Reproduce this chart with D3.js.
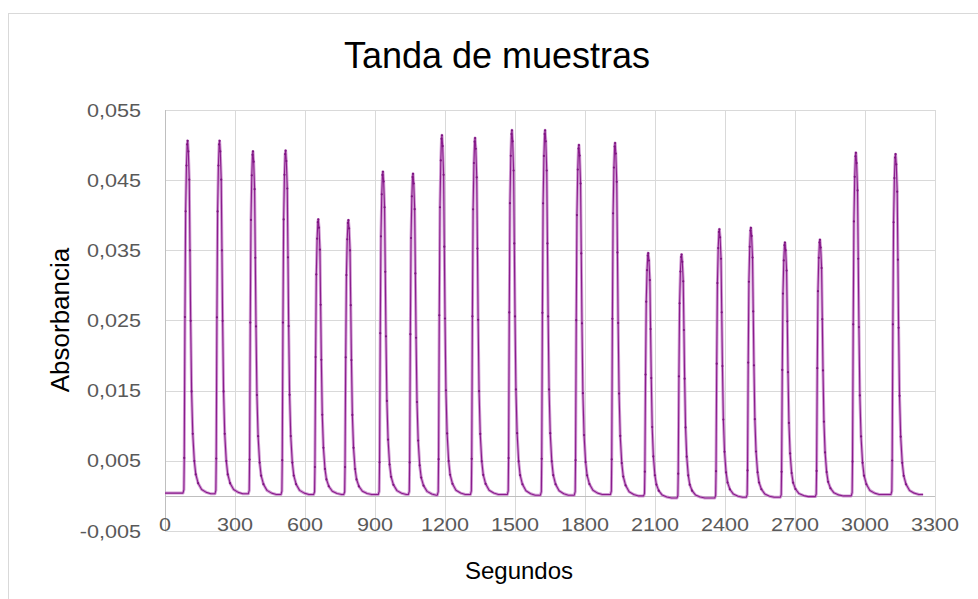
<!DOCTYPE html>
<html>
<head>
<meta charset="utf-8">
<script src="https://cdn.jsdelivr.net/npm/d3@7"></script>
<style>
  html, body { margin: 0; padding: 0; background: #fff; }
  svg { display: block; font-family: "Liberation Sans", Arial, sans-serif; }
</style>
</head>
<body>
<svg id="chart" width="978" height="599"></svg>
<script>
// Absorbance run: one peak per injected sample
const peakTimes   = [97, 234, 377, 517, 657, 786, 934, 1063, 1187, 1329, 1487,
                     1629, 1774, 1929, 2071, 2214, 2376, 2511, 2657, 2807, 2961, 3131];
const peakHeights = [0.0506, 0.0506, 0.0491, 0.0492, 0.0394, 0.0393, 0.0462, 0.0459,
                     0.0514, 0.0510, 0.0521, 0.0521, 0.0500, 0.0503, 0.0346, 0.0344,
                     0.0380, 0.0382, 0.0361, 0.0365, 0.0489, 0.0487];
// baseline level before each peak (last entry: after the final peak)
const baselineLevels = [0.0004, 0.0003, 0.0003, 0.0002, 0.0002, 0.0002, 0.0002, 0.0002,
                        0.0001, 0.0002, 0.0002, 0.0001, 0.0001, 0.0002, 0.0000, -0.0003,
                        -0.0003, -0.0002, -0.0002, -0.0001, 0.0000, 0.0002, 0.0002];
// measured peak profile: seconds from the maximum, fraction of peak height
const profileOffsets   = [-20, -16, -14.5, -11.5, -8.5, -5, -2, 0, 3, 7, 10, 13, 17, 22,
                          28.6, 35, 45, 60, 80, 100];
const profileFractions = [0, 0.01, 0.1, 0.5, 0.8, 0.93, 0.99, 1, 0.97, 0.89, 0.69, 0.49,
                          0.29, 0.17, 0.093, 0.055, 0.03, 0.012, 0.004, 0];
const recordStart = 0;
const recordEnd = 3249;

const xTickValues = [0, 300, 600, 900, 1200, 1500, 1800, 2100, 2400, 2700, 3000, 3300];
const yTickValues = [-0.005, 0.005, 0.015, 0.025, 0.035, 0.045, 0.055];

const titleText = "Tanda de muestras";
const xTitle = "Segundos";
const yTitle = "Absorbancia";

// ---- build the trace ----
const trace = [[recordStart, baselineLevels[0]]];
const markers = [];
peakTimes.forEach((t0, i) => {
  const h = peakHeights[i];
  profileOffsets.forEach((off, k) => {
    const base = off <= 0 ? baselineLevels[i] : baselineLevels[i + 1];
    const v = base + profileFractions[k] * (h - base);
    trace.push([t0 + off, v]);
    if (profileFractions[k] > 0.02) markers.push([t0 + off, v]);
  });
});
trace.push([recordEnd, baselineLevels[baselineLevels.length - 1]]);

// ---- layout ----
const svg = d3.select("#chart");
const plot = { left: 165, right: 935, top: 110, bottom: 531 };

const x = d3.scaleLinear().domain([0, 3300]).range([plot.left, plot.right]);
const y = d3.scaleLinear().domain([-0.005, 0.055]).range([plot.bottom, plot.top]);

const locale = d3.formatLocale({ decimal: ",", thousands: ".", grouping: [3], currency: ["", "€"], minus: "-" });
const fmtY = locale.format(".3f");

svg.append("rect").attr("width", 978).attr("height", 599).attr("fill", "#fff");
// chart frame
svg.append("rect")
  .attr("x", 8.5).attr("y", 13.5).attr("width", 1100).attr("height", 700)
  .attr("fill", "none").attr("stroke", "#d9d9d9").attr("stroke-width", 1);

// gridlines
svg.append("g")
  .selectAll("line").data(yTickValues).join("line")
  .attr("x1", plot.left).attr("x2", plot.right)
  .attr("y1", d => Math.round(y(d)) + 0.5).attr("y2", d => Math.round(y(d)) + 0.5)
  .attr("stroke", "#d9d9d9").attr("stroke-width", 1);
svg.append("g")
  .selectAll("line").data(xTickValues).join("line")
  .attr("x1", d => Math.round(x(d)) + 0.5).attr("x2", d => Math.round(x(d)) + 0.5)
  .attr("y1", plot.top).attr("y2", plot.bottom)
  .attr("stroke", "#d9d9d9").attr("stroke-width", 1);

// axis lines (x axis crosses at zero)
svg.append("line")
  .attr("x1", plot.left).attr("x2", plot.right)
  .attr("y1", Math.round(y(0)) + 0.5).attr("y2", Math.round(y(0)) + 0.5)
  .attr("stroke", "#bfbfbf").attr("stroke-width", 1);
svg.append("line")
  .attr("x1", Math.round(x(0)) + 0.5).attr("x2", Math.round(x(0)) + 0.5)
  .attr("y1", plot.top).attr("y2", plot.bottom)
  .attr("stroke", "#bfbfbf").attr("stroke-width", 1);

// tick labels
svg.append("g")
  .selectAll("text").data(yTickValues).join("text")
  .attr("transform", d => `translate(141,${y(d) + 6.5}) scale(1.2,1)`)
  .attr("text-anchor", "end")
  .attr("font-size", 18).attr("fill", "#595959")
  .text(d => fmtY(d));
svg.append("g")
  .selectAll("text").data(xTickValues).join("text")
  .attr("transform", d => `translate(${x(d)},531) scale(1.2,1)`)
  .attr("text-anchor", "middle")
  .attr("font-size", 18).attr("fill", "#595959")
  .text(d => d);

// absorbance trace
const line = d3.line().x(d => x(d[0])).y(d => y(d[1]));
svg.append("path").datum(trace)
  .attr("d", line).attr("fill", "none")
  .attr("stroke", "#c27bc6").attr("stroke-width", 3).attr("stroke-opacity", 0.75)
  .attr("stroke-linejoin", "round");
svg.append("path").datum(trace)
  .attr("d", line).attr("fill", "none")
  .attr("stroke", "#8a1c8c").attr("stroke-width", 1.1)
  .attr("stroke-linejoin", "round");
svg.append("g")
  .selectAll("circle").data(markers).join("circle")
  .attr("cx", d => x(d[0])).attr("cy", d => y(d[1])).attr("r", 1.1)
  .attr("fill", "#7d1580");

// titles
svg.append("text")
  .attr("x", 497).attr("y", 68).attr("text-anchor", "middle")
  .attr("font-size", 36).attr("fill", "#000")
  .text(titleText);
svg.append("text")
  .attr("x", 519).attr("y", 579).attr("text-anchor", "middle")
  .attr("font-size", 24).attr("fill", "#000")
  .text(xTitle);
svg.append("text")
  .attr("transform", "translate(69,320) rotate(-90)")
  .attr("text-anchor", "middle")
  .attr("font-size", 26).attr("fill", "#000")
  .text(yTitle);
</script>
</body>
</html>
